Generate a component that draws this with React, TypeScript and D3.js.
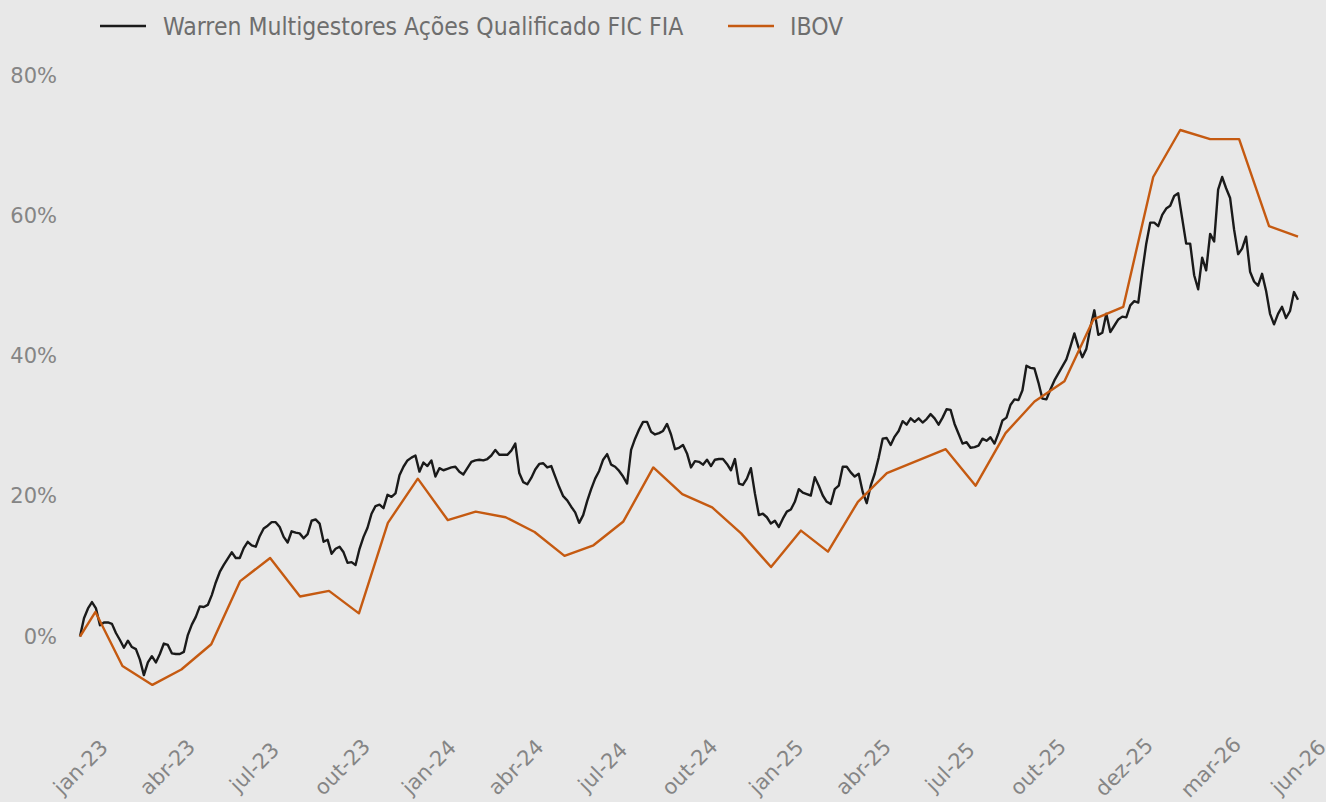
import React, { useEffect, useRef } from 'react'
import * as d3 from 'd3'

const W = 1326
const H = 802

const seriesNames = ['Warren Multigestores Ações Qualificado FIC FIA', 'IBOV']
const seriesColors = ['#1a1a1a', '#c55a11']

// fund: daily-ish readings, evenly spaced between first and last date
const fundStart = '2023-01-15'
const fundEnd = '2026-06-30'
const fundValues = [
  0, 2.6, 4.0, 4.9, 4.0, 1.6, 2.0, 2.0, 1.8, 0.5,
  -0.5, -1.6, -0.6, -1.5, -1.8, -3.3, -5.5, -3.7, -2.8, -3.7,
  -2.5, -1.0, -1.2, -2.4, -2.5, -2.5, -2.2, 0.2, 1.7, 2.8,
  4.3, 4.2, 4.5, 5.9, 7.7, 9.2, 10.2, 11.1, 12.0, 11.2,
  11.2, 12.6, 13.5, 13.0, 12.8, 14.3, 15.4, 15.8, 16.3, 16.3,
  15.6, 14.2, 13.4, 15.0, 14.8, 14.7, 14.0, 14.6, 16.5, 16.7,
  16.1, 13.5, 13.8, 11.8, 12.5, 12.8, 12.0, 10.5, 10.6, 10.2,
  12.5, 14.2, 15.5, 17.5, 18.6, 18.8, 18.3, 20.2, 19.9, 20.4,
  23.0, 24.2, 25.1, 25.5, 25.8, 23.5, 24.8, 24.3, 25.1, 22.8,
  24.0, 23.7, 23.9, 24.1, 24.2, 23.5, 23.1, 24.0, 24.9, 25.1,
  25.2, 25.1, 25.3, 25.8, 26.6, 25.9, 25.9, 25.9, 26.5, 27.5,
  23.3, 22.0, 21.7, 22.6, 23.8, 24.6, 24.7, 24.1, 24.3, 22.8,
  21.3, 20.0, 19.4, 18.5, 17.7, 16.2, 17.3, 19.3, 21.0, 22.5,
  23.6, 25.2, 26.0, 24.5, 24.2, 23.6, 22.8, 21.8, 26.6, 28.2,
  29.5, 30.6, 30.6, 29.2, 28.8, 29.0, 29.3, 30.3, 28.8, 26.7,
  26.9, 27.3, 26.1, 24.1, 25.0, 24.9, 24.5, 25.2, 24.3, 25.2,
  25.3, 25.3, 24.6, 23.7, 25.3, 21.8, 21.6, 22.5, 24.0, 20.4,
  17.3, 17.5, 17.0, 16.1, 16.5, 15.6, 16.8, 17.8, 18.1, 19.2,
  21.0, 20.5, 20.3, 20.1, 22.7, 21.5, 20.1, 19.2, 18.9, 21.0,
  21.5, 24.2, 24.2, 23.4, 22.8, 23.2, 20.6, 19.0, 21.5, 23.2,
  25.5, 28.2, 28.3, 27.3, 28.5, 29.3, 30.7, 30.2, 31.1, 30.6,
  31.1, 30.5, 31.0, 31.7, 31.1, 30.2, 31.2, 32.4, 32.3, 30.3,
  28.9, 27.5, 27.7, 26.9, 27.0, 27.2, 28.2, 27.9, 28.4, 27.5,
  29.0, 30.8, 31.2, 33.0, 33.8, 33.7, 35.1, 38.6, 38.3, 38.2,
  36.2, 33.9, 33.8, 35.2, 36.5, 37.5, 38.5, 39.5, 41.3, 43.2,
  41.3, 39.8, 41.0, 44.0, 46.5, 43.0, 43.3, 46.0, 43.4, 44.3,
  45.2, 45.6, 45.5, 47.2, 47.8, 47.6, 52.0, 56.0, 59.0, 59.0,
  58.5, 60.1, 61.0, 61.4, 62.8, 63.2, 59.6, 56.0, 56.0, 51.5,
  49.5, 54.0, 52.2, 57.4, 56.3, 63.7, 65.5, 63.9, 62.5, 58.0,
  54.5, 55.3, 57.0, 52.0, 50.6, 50.0, 51.7, 49.3, 46.0, 44.5,
  46.0, 47.0, 45.4, 46.4, 49.1, 48.0,
]

// IBOV: month-end readings (May 2025 absent in source)
const ibovDates = [
  '2023-01-15', '2023-01-31', '2023-02-28', '2023-03-31', '2023-04-30', '2023-05-31',
  '2023-06-30', '2023-07-31', '2023-08-31', '2023-09-30', '2023-10-31', '2023-11-30',
  '2023-12-31', '2024-01-31', '2024-02-29', '2024-03-31', '2024-04-30', '2024-05-31',
  '2024-06-30', '2024-07-31', '2024-08-31', '2024-09-30', '2024-10-31', '2024-11-30',
  '2024-12-31', '2025-01-31', '2025-02-28', '2025-03-31', '2025-04-30', '2025-06-30',
  '2025-07-31', '2025-08-31', '2025-09-30', '2025-10-31', '2025-11-30', '2025-12-31',
  '2026-01-31', '2026-02-28', '2026-03-31', '2026-04-30', '2026-05-31', '2026-06-30',
]
const ibovValues = [
  0, 3.5, -4.2, -6.9, -4.7, -1.1,
  7.9, 11.2, 5.7, 6.5, 3.3, 16.2,
  22.5, 16.6, 17.8, 17.0, 14.9, 11.5,
  13.0, 16.4, 24.1, 20.3, 18.4, 14.7,
  9.9, 15.1, 12.1, 19.2, 23.3, 26.7,
  21.5, 29.0, 33.5, 36.4, 45.2, 47.0,
  65.5, 72.2, 70.9, 70.9, 58.5, 57.0,
]

const tickDates = [
  '2023-01-15', '2023-04-15', '2023-07-14', '2023-10-13', '2024-01-11',
  '2024-04-10', '2024-07-09', '2024-10-07', '2025-01-05', '2025-04-05',
  '2025-07-04', '2025-10-03', '2025-12-31', '2026-03-31', '2026-06-30',
]
const tickLabels = [
  'jan-23', 'abr-23', 'jul-23', 'out-23', 'jan-24', 'abr-24', 'jul-24', 'out-24',
  'jan-25', 'abr-25', 'jul-25', 'out-25', 'dez-25', 'mar-26', 'jun-26',
]
const yTicks = [0, 20, 40, 60, 80]

const parse = d3.timeParse('%Y-%m-%d')
const FONT = '"DejaVu Sans", sans-serif'
const LEGEND_FONT = '"DejaVu Sans Condensed", "DejaVu Sans", sans-serif'

export default function App() {
  const ref = useRef<SVGSVGElement>(null)

  useEffect(() => {
    const svg = d3.select(ref.current)
    svg.selectAll('*').remove()

    const t0 = parse(fundStart)!
    const t1 = parse(fundEnd)!
    const x = d3.scaleTime().domain([t0, t1]).range([80, 1298])
    const y = d3.scaleLinear().domain([0, 80]).range([636.5, 75.3])

    svg.append('rect').attr('width', W).attr('height', H).attr('fill', '#e8e8e8')

    const idx = d3.scaleLinear().domain([0, fundValues.length - 1]).range([+t0, +t1])
    const fund = fundValues.map((v, i) => ({ d: new Date(idx(i)), v }))
    const ibov = ibovDates.map((s, i) => ({ d: parse(s)!, v: ibovValues[i] }))

    const line = d3
      .line<{ d: Date; v: number }>()
      .x((p) => x(p.d))
      .y((p) => y(p.v))

    svg
      .append('path')
      .datum(fund)
      .attr('d', line)
      .attr('fill', 'none')
      .attr('stroke', seriesColors[0])
      .attr('stroke-width', 2.4)
      .attr('stroke-linejoin', 'round')

    svg
      .append('path')
      .datum(ibov)
      .attr('d', line)
      .attr('fill', 'none')
      .attr('stroke', seriesColors[1])
      .attr('stroke-width', 2.4)
      .attr('stroke-linejoin', 'round')

    // y axis
    const yAxis = svg
      .append('g')
      .attr('transform', 'translate(57,0)')
      .call(
        d3
          .axisLeft(y)
          .tickValues(yTicks)
          .tickSize(0)
          .tickPadding(0)
          .tickFormat((d) => `${d}%`)
      )
    yAxis.select('.domain').remove()
    yAxis
      .selectAll('text')
      .attr('fill', '#858585')
      .style('font-family', FONT)
      .style('font-size', '21px')

    // x axis, rotated labels
    const xAxis = svg
      .append('g')
      .attr('transform', 'translate(0,767)')
      .call(
        d3
          .axisBottom(x)
          .tickValues(tickDates.map((s) => parse(s)!))
          .tickSize(0)
          .tickFormat((_, i) => tickLabels[i])
      )
    xAxis.select('.domain').remove()
    xAxis
      .selectAll('text')
      .attr('y', 0)
      .attr('dy', '0.35em')
      .attr('transform', 'rotate(-45)')
      .attr('text-anchor', 'middle')
      .attr('fill', '#858585')
      .style('font-family', FONT)
      .style('font-size', '21px')

    // legend
    const lg = svg.append('g').style('font-family', LEGEND_FONT).style('font-size', '24.5px')
    const items = [
      { x: 100, tx: 163 },
      { x: 728, tx: 790 },
    ]
    items.forEach((it, i) => {
      lg.append('line')
        .attr('x1', it.x)
        .attr('x2', it.x + 46)
        .attr('y1', 26)
        .attr('y2', 26)
        .attr('stroke', seriesColors[i])
        .attr('stroke-width', 2.5)
      lg.append('text')
        .attr('x', it.tx)
        .attr('y', 26)
        .attr('dy', '0.35em')
        .attr('fill', '#6e6e6e')
        .text(seriesNames[i])
    })
  }, [])

  return (
    <>
      <style>{'body{margin:0;background:#e8e8e8}'}</style>
      <svg ref={ref} width={W} height={H} style={{ display: 'block' }} />
    </>
  )
}
